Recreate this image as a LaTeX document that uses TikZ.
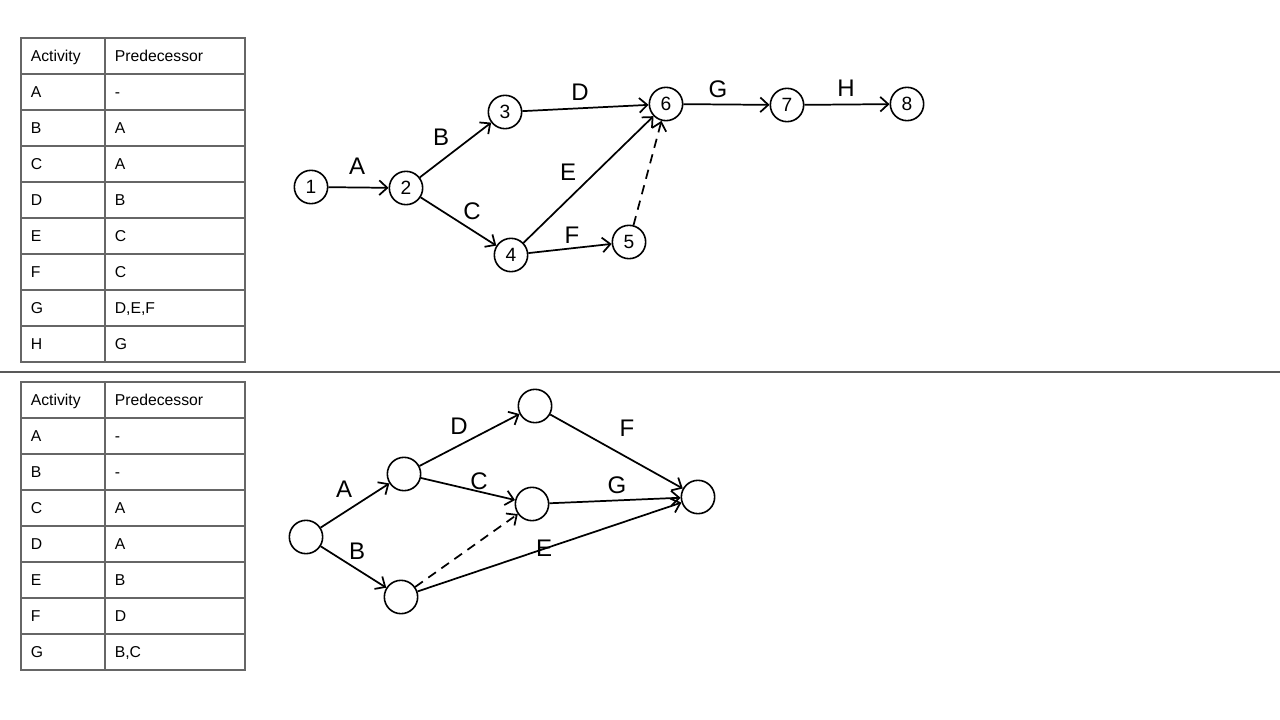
\documentclass[tikz,border=0pt]{standalone}
\usepackage{fontspec}
\setmainfont{Liberation Sans}
\usetikzlibrary{automata,positioning,arrows.meta}

\tikzset{
  state/.append style={minimum size=25pt,inner sep=0pt,line width=1.2pt,font=\Large},
  act/.style={font=\fontsize{18}{20}\selectfont,inner sep=1pt},
  cell/.style={anchor=west,font=\fontsize{11.8}{13}\selectfont,inner sep=0pt,text height=8.5pt,text depth=0pt},
  grid/.style={draw=black!60,line width=1.1pt},
  dummy/.style={dash pattern=on 7pt off 5pt}
}

\begin{document}
\begin{tikzpicture}[x=0.75pt,y=-0.75pt,>={Straight Barb[length=6pt,width=11pt]},line width=1.3pt]
    \useasboundingbox (0,0) rectangle (1280,720);
    % tables
    \foreach \top/\rows/\tab in {38/8/t, 382/7/b} {
      \draw[grid] (21,\top) rectangle (245,{\top+36*(\rows+1)});
      \draw[grid] (105,\top) -- (105,{\top+36*(\rows+1)});
      \foreach \r in {1,...,\rows}
        \draw[grid] (21,{\top+36*\r}) -- (245,{\top+36*\r});
      \node[cell] (\tab h1) at (30,\top+18) {Activity};
      \node[cell] (\tab h2) at (114,\top+18) {Predecessor};
    }
    \foreach \a/\p [count=\i] in {A/-,B/A,C/A,D/B,E/C,F/C,G/{D,E,F},H/G} {
      \node[cell] (ta\i) at (30,{38+36*\i+18}) {\a};
      \node[cell] (tp\i) at (114,{38+36*\i+18}) {\p};
    }
    \foreach \a/\p [count=\i] in {A/-,B/-,C/A,D/A,E/B,F/D,G/{B,C}} {
      \node[cell] (ba\i) at (30,{382+36*\i+18}) {\a};
      \node[cell] (bp\i) at (114,{382+36*\i+18}) {\p};
    }
    \draw[draw=black!65,line width=2pt] (0,372) -- (1280,372);

    % top network
    \node[state] (q_1) at (311,187) {1};
    \node[state] (q_2) at (406,188) {2};
    \node[state] (q_3) at (505,112) {3};
    \node[state] (q_4) at (511,255) {4};
    \node[state] (q_5) at (629,242) {5};
    \node[state] (q_6) at (666,104) {6};
    \node[state] (q_7) at (787,105) {7};
    \node[state] (q_8) at (907,104) {8};
    \path[->]
    (q_1) edge (q_2)
    (q_2) edge (q_3)
    (q_2) edge (q_4)
    (q_3) edge (q_6)
    (q_4) edge (q_6)
    (q_4) edge (q_5)
    (q_5) edge [dummy] (q_6)
    (q_6) edge (q_7)
    (q_7) edge (q_8)
    ; %end path
    \node[act] (l_A) at (357,166) {A};
    \node[act] (l_B) at (441,137) {B};
    \node[act] (l_C) at (472,211) {C};
    \node[act] (l_D) at (580,92) {D};
    \node[act] (l_E) at (568,172) {E};
    \node[act] (l_F) at (572,235) {F};
    \node[act] (l_G) at (718,89) {G};
    \node[act] (l_H) at (846,88) {H};

    % bottom network
    \node[state] (p_s) at (306,537) {};
    \node[state] (p_a) at (404,474) {};
    \node[state] (p_b) at (401,597) {};
    \node[state] (p_d) at (535,406) {};
    \node[state] (p_c) at (532,504) {};
    \node[state] (p_e) at (698,497) {};
    \path[->]
    (p_s) edge (p_a)
    (p_s) edge (p_b)
    (p_a) edge (p_d)
    (p_a) edge (p_c)
    (p_b) edge [dummy] (p_c)
    (p_b) edge (p_e)
    (p_d) edge (p_e)
    (p_c) edge (p_e)
    ; %end path
    \node[act] (m_A) at (344,489) {A};
    \node[act] (m_B) at (357,551) {B};
    \node[act] (m_D) at (459,426) {D};
    \node[act] (m_C) at (479,481) {C};
    \node[act] (m_F) at (627,428) {F};
    \node[act] (m_G) at (617,485) {G};
    \node[act] (m_E) at (544,548) {E};
\end{tikzpicture}
\end{document}
